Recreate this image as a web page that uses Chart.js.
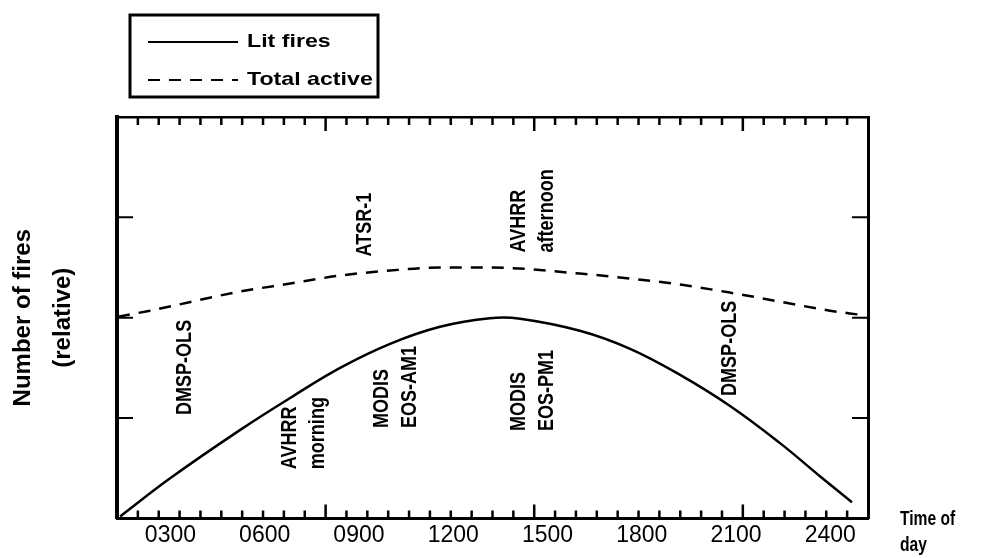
<!DOCTYPE html>
<html>
<head>
<meta charset="utf-8">
<title>Number of fires by time of day</title>
<script src="https://cdn.jsdelivr.net/npm/chart.js@4.4.0/dist/chart.umd.min.js"></script>
<style>
  html, body { margin: 0; padding: 0; background: #fff; }
  #wrap { position: relative; width: 982px; height: 558px; }
</style>
</head>
<body>
<div id="wrap"><canvas id="fires-chart"></canvas></div>
<script>
// time of day (hhmm) and relative number of fires
const litTimes = [140, 299, 521, 681, 840, 999, 1158, 1317, 1413, 1603, 1763, 1922, 2081, 2240, 2367, 2469];
const litValues = [0.02, 0.40, 0.88, 1.20, 1.50, 1.74, 1.91, 1.995, 1.99, 1.87, 1.69, 1.43, 1.12, 0.75, 0.42, 0.16];

const totalTimes = [133, 235, 521, 681, 840, 999, 1158, 1317, 1603, 1763, 1922, 2081, 2240, 2399, 2494];
const totalValues = [2.01, 2.07, 2.26, 2.34, 2.42, 2.47, 2.50, 2.50, 2.44, 2.39, 2.33, 2.25, 2.16, 2.07, 2.03];

const xTickValues = [300, 600, 900, 1200, 1500, 1800, 2100, 2400];
const xTickLabels = ['0300', '0600', '0900', '1200', '1500', '1800', '2100', '2400'];
const yTickValues = [1, 2, 3];

const seriesNames = ['Lit fires', 'Total active'];

// satellite overpass notes: lines of text, anchored at the bottom of the first line
const noteLines = [
    ['DMSP-OLS'],
    ['AVHRR', 'morning'],
    ['MODIS', 'EOS-AM1'],
    ['ATSR-1'],
    ['AVHRR', 'afternoon'],
    ['MODIS', 'EOS-PM1'],
    ['DMSP-OLS']
];
const noteTimes = [346, 681, 972, 919, 1409, 1408, 2081];
const noteLevels = [1.03, 0.49, 0.90, 2.61, 2.65, 0.87, 1.22];

const X_MIN = 130, X_MAX = 2520;
const MINOR_DIVISIONS = 36;

function toPoints(xs, ys) {
    return xs.map((x, i) => ({ x: x, y: ys[i] }));
}

function drawText(ctx, text, x, y, opts) {
    ctx.save();
    ctx.translate(x, y);
    if (opts.rotate) ctx.rotate(opts.rotate);
    ctx.scale(opts.sx || 1, 1);
    ctx.font = opts.font;
    ctx.fillStyle = '#000';
    ctx.textAlign = opts.align || 'left';
    ctx.textBaseline = 'middle';
    ctx.fillText(text, 0, 0);
    ctx.restore();
}

// inward tick marks on all four sides of the frame
const frameTicks = {
    id: 'frameTicks',
    afterDraw(chart) {
        const { ctx, chartArea: area, scales } = chart;
        ctx.save();
        ctx.strokeStyle = '#000';
        ctx.lineWidth = 2.5;
        ctx.beginPath();
        for (let i = 1; i < MINOR_DIVISIONS; i++) {
            const px = scales.x.getPixelForValue(X_MIN + i * (X_MAX - X_MIN) / MINOR_DIVISIONS);
            const len = i % 10 === 0 ? 14 : 8;
            ctx.moveTo(px, area.bottom);
            ctx.lineTo(px, area.bottom - len);
            ctx.moveTo(px, area.top);
            ctx.lineTo(px, area.top + len);
        }
        ctx.stroke();
        ctx.lineWidth = 2;
        ctx.beginPath();
        yTickValues.forEach(v => {
            const py = scales.y.getPixelForValue(v);
            ctx.moveTo(area.left, py);
            ctx.lineTo(area.left + 16, py);
            ctx.moveTo(area.right, py);
            ctx.lineTo(area.right - 16, py);
        });
        ctx.stroke();
        ctx.restore();
    }
};

// rotated notes, the boxed legend and the x axis title
const notesAndLegend = {
    id: 'notesAndLegend',
    afterDraw(chart) {
        const { ctx, chartArea: area, scales } = chart;

        noteLines.forEach((lines, n) => {
            const px = scales.x.getPixelForValue(noteTimes[n]);
            const py = scales.y.getPixelForValue(noteLevels[n]);
            lines.forEach((line, k) => {
                drawText(ctx, line, px + k * 28, py, {
                    font: 'bold 22px "Liberation Sans", Arial, sans-serif',
                    rotate: -Math.PI / 2, sx: 0.82
                });
            });
        });

        // legend box
        ctx.save();
        ctx.strokeStyle = '#000';
        ctx.lineWidth = 3;
        ctx.strokeRect(130, 15, 248, 82);
        ctx.restore();

        chart.data.datasets.forEach((ds, i) => {
            const y = 42 + i * 38;
            ctx.save();
            ctx.strokeStyle = ds.borderColor;
            ctx.lineWidth = 2.2;
            ctx.setLineDash(ds.borderDash || []);
            ctx.beginPath();
            ctx.moveTo(148, y);
            ctx.lineTo(238, y);
            ctx.stroke();
            ctx.restore();
            drawText(ctx, ds.label, 247, y, {
                font: 'bold 19px "Liberation Sans", Arial, sans-serif', sx: 1.22
            });
        });

        // x axis title, off to the right of the tick labels
        drawText(ctx, 'Time of', area.right + 32, area.bottom + 1, {
            font: 'bold 20px "Liberation Sans", Arial, sans-serif', sx: 0.78
        });
        drawText(ctx, 'day', area.right + 32, area.bottom + 27, {
            font: 'bold 20px "Liberation Sans", Arial, sans-serif', sx: 0.78
        });
    }
};

const frameAxis = {
    display: true,
    ticks: { display: false },
    grid: { display: true, drawOnChartArea: false, drawTicks: false },
    border: { display: true, color: '#000', width: 3 }
};

new Chart(document.getElementById('fires-chart'), {
    type: 'line',
    data: {
        datasets: [
            {
                label: seriesNames[0],
                data: toPoints(litTimes, litValues),
                borderColor: '#000',
                borderWidth: 2.5,
                pointRadius: 0,
                tension: 0.4
            },
            {
                label: seriesNames[1],
                data: toPoints(totalTimes, totalValues),
                borderColor: '#000',
                borderWidth: 2.5,
                borderDash: [12, 9],
                pointRadius: 0,
                cubicInterpolationMode: 'monotone'
            }
        ]
    },
    options: {
        responsive: true,
        maintainAspectRatio: false,
        animation: false,
        layout: { padding: { top: 117, right: 114, bottom: 6, left: 0 } },
        plugins: {
            legend: { display: false },
            tooltip: { enabled: false }
        },
        scales: {
            x: {
                type: 'linear',
                min: X_MIN,
                max: X_MAX,
                afterBuildTicks: scale => {
                    scale.ticks = xTickValues.map(v => ({ value: v }));
                },
                ticks: {
                    color: '#000',
                    padding: 3,
                    maxRotation: 0,
                    font: { family: '"Liberation Sans", Arial, sans-serif', size: 23 },
                    callback: (value, index) => xTickLabels[index]
                },
                grid: { display: true, drawOnChartArea: false, drawTicks: false },
                border: { display: true, color: '#000', width: 3 }
            },
            x2: Object.assign({ type: 'linear', position: 'top', min: X_MIN, max: X_MAX }, frameAxis,
                { border: { display: true, color: '#000', width: 2.5 } }),
            y: {
                type: 'linear',
                min: 0,
                max: 4,
                ticks: { display: false },
                grid: { display: true, drawOnChartArea: false, drawTicks: false },
                border: { display: true, color: '#000', width: 4 },
                title: {
                    display: true,
                    text: ['Number of fires', '(relative)'],
                    color: '#000',
                    font: { family: '"Liberation Sans", Arial, sans-serif', size: 24, weight: 'bold', lineHeight: '40px' },
                    padding: { top: 3, bottom: 34 }
                }
            },
            y2: Object.assign({ type: 'linear', position: 'right', min: 0, max: 4 }, frameAxis)
        }
    },
    plugins: [frameTicks, notesAndLegend]
});
</script>
</body>
</html>
